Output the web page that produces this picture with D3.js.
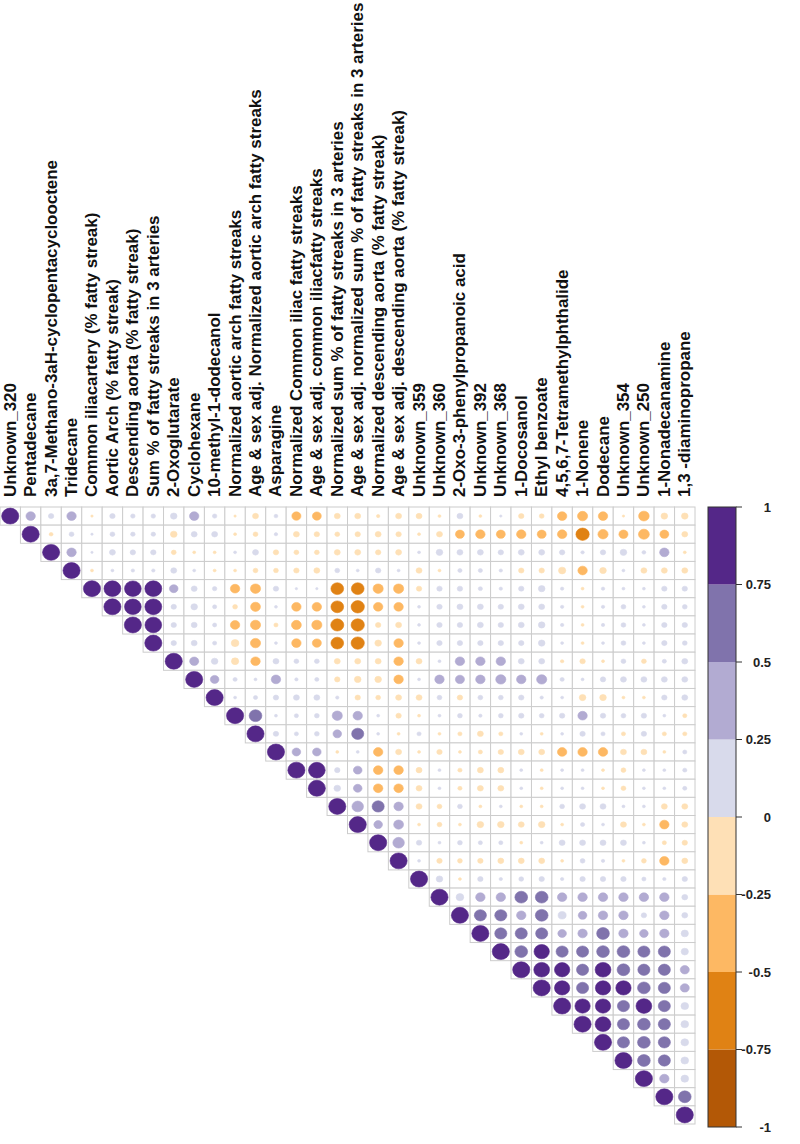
<!DOCTYPE html>
<html>
<head>
<meta charset="utf-8">
<script src="https://cdn.jsdelivr.net/npm/d3@7"></script>
<style>
  html, body { margin: 0; padding: 0; background: #ffffff; }
  svg { display: block; }
</style>
</head>
<body>
<svg id="chart" width="800" height="1144"></svg>
<script>
// ---------------- DATA ----------------
const labels = [
  "Unknown_320",
  "Pentadecane",
  "3a,7-Methano-3aH-cyclopentacyclooctene",
  "Tridecane",
  "Common iliacartery (% fatty streak)",
  "Aortic Arch (% fatty streak)",
  "Descending aorta (% fatty streak)",
  "Sum % of fatty streaks in  3  arteries",
  "2-Oxoglutarate",
  "Cyclohexane",
  "10-methyl-1-dodecanol",
  "Normalized aortic arch fatty streaks",
  "Age & sex adj. Normalized aortic arch fatty streaks",
  "Asparagine",
  "Normalized Common iliac fatty streaks",
  "Age & sex adj. common iliacfatty streaks",
  "Normalized sum % of fatty streaks in 3 arteries",
  "Age & sex adj. normalized sum % of fatty streaks in 3 arteries",
  "Normalized descending aorta (% fatty streak)",
  "Age & sex adj. descending aorta (% fatty streak)",
  "Unknown_359",
  "Unknown_360",
  "2-Oxo-3-phenylpropanoic acid",
  "Unknown_392",
  "Unknown_368",
  "1-Docosanol",
  "Ethyl benzoate",
  "4,5,6,7-Tetramethylphthalide",
  "1-Nonene",
  "Dodecane",
  "Unknown_354",
  "Unknown_250",
  "1-Nonadecanamine",
  "1,3 -diaminopropane"
];

// Upper-triangle correlations: row i holds values for columns i..33
const r0  = [1, 0.3, 0.1, 0.3, -0.02, 0.1, 0.07, 0.07, 0.15, 0.3, 0.07, -0.02, -0.12, 0.05, -0.28, -0.27, -0.12, -0.12, -0.04, -0.12, -0.12, -0.03, 0.12, -0.03, 0.02, -0.1, -0.08, -0.3, -0.35, -0.3, -0.02, -0.38, -0.15, -0.15];
const r1  = [1, -0.05, 0.08, 0.02, 0.08, 0.07, 0.07, -0.15, 0.12, 0.12, -0.03, -0.08, 0.04, -0.12, -0.1, -0.08, -0.1, -0.12, -0.1, -0.03, -0.12, -0.27, -0.3, -0.27, -0.3, -0.27, -0.3, -0.6, -0.35, -0.28, -0.4, -0.27, -0.12];
const r2  = [1, 0.3, 0.02, 0.12, 0.1, 0.1, -0.08, -0.03, -0.03, 0.03, 0.12, -0.1, -0.08, -0.08, -0.12, -0.12, -0.1, -0.12, 0.03, 0.15, 0.12, 0.12, 0.1, 0.12, 0.12, 0.1, 0.04, 0.1, 0.15, 0.05, 0.3, -0.03];
const r3  = [1, -0.03, 0.03, 0.04, 0.04, 0.12, 0.03, -0.03, -0.03, -0.08, -0.08, -0.1, -0.12, 0.08, 0.03, 0.1, 0.03, -0.12, -0.03, 0.06, 0.06, 0.04, -0.1, -0.1, -0.18, -0.3, -0.15, 0.03, -0.12, -0.12, -0.12];
const r4  = [1, 0.97, 0.95, 0.97, 0.25, 0.12, 0.07, -0.3, -0.35, 0.1, 0.02, 0.02, -0.55, -0.55, -0.35, -0.35, -0.1, 0.1, 0.1, 0.06, 0.04, 0.1, 0.15, 0.04, -0.03, 0.04, 0.03, 0.03, 0.1, 0.1];
const r5  = [1, 0.95, 0.97, 0.1, 0.15, 0.06, -0.08, -0.33, 0.03, -0.3, -0.3, -0.55, -0.6, -0.3, -0.3, 0.03, 0.1, 0.12, 0.12, 0.1, 0.12, 0.12, 0.04, -0.03, 0.04, 0.08, 0.03, 0.1, 0.08];
const r6  = [1, 0.95, 0.1, 0.12, 0.06, -0.3, -0.35, -0.06, -0.33, -0.35, -0.58, -0.6, -0.1, -0.12, 0.03, 0.1, 0.1, 0.12, 0.1, 0.12, 0.15, 0.04, -0.03, 0.04, 0.08, 0.03, 0.1, 0.1];
const r7  = [1, 0.1, 0.12, 0.06, -0.2, -0.35, 0.03, -0.3, -0.28, -0.55, -0.6, -0.15, -0.3, 0.03, 0.1, 0.1, 0.1, 0.1, 0.1, 0.15, 0.03, -0.03, 0.03, 0.08, 0.03, 0.1, 0.08];
const r8  = [1, 0.28, 0.15, -0.18, -0.3, 0.12, 0.08, 0.08, -0.12, -0.12, -0.12, -0.3, -0.12, 0.03, 0.3, 0.3, 0.3, 0.12, 0.12, -0.04, -0.1, -0.03, 0.08, -0.08, 0.06, 0.12];
const r9  = [1, 0.25, 0.06, 0.03, 0.3, 0.04, 0.06, -0.1, -0.15, -0.15, -0.3, 0.03, 0.3, 0.28, 0.3, 0.35, 0.3, 0.35, 0.06, 0.03, 0.1, 0.12, 0.12, 0.12, 0.12];
const r10 = [1, 0.03, 0.06, 0.1, 0.12, 0.12, 0.04, -0.1, -0.08, -0.12, -0.12, 0.08, -0.1, 0.08, 0.08, 0.1, 0.04, 0.03, -0.15, -0.15, -0.03, -0.03, 0.1, 0.12];
const r11 = [1, 0.55, 0.03, 0.06, 0.08, 0.35, 0.3, 0.03, -0.1, -0.03, 0.03, 0.08, 0.04, 0.08, 0.1, 0.08, 0.1, 0.3, 0.1, 0.08, 0.1, 0.03, -0.06];
const r12 = [1, 0.1, 0.06, 0.08, 0.25, 0.5, 0.03, -0.03, 0.06, -0.03, -0.06, -0.12, -0.06, 0.03, -0.03, 0.03, 0.1, 0.06, -0.06, 0.1, -0.06, -0.06];
const r13 = [1, 0.25, 0.25, -0.03, 0.03, -0.3, -0.12, -0.03, -0.1, -0.03, -0.06, -0.1, -0.12, -0.12, -0.3, -0.3, -0.3, -0.12, -0.12, -0.03, 0.06];
const r14 = [1, 0.95, 0.1, 0.25, -0.3, -0.3, -0.12, 0.03, -0.06, -0.12, -0.12, 0.03, -0.03, 0.03, 0.03, -0.03, -0.08, 0.03, 0.03, 0.06];
const r15 = [1, 0.15, 0.25, -0.3, -0.3, -0.12, 0.03, -0.06, -0.12, -0.12, 0.03, -0.03, 0.03, 0.03, -0.03, -0.08, 0.03, 0.03, 0.06];
const r16 = [1, 0.45, 0.5, 0.3, -0.12, -0.08, 0.08, -0.03, 0.03, -0.03, -0.03, 0.08, 0.12, 0.12, 0.03, 0.03, -0.12, -0.12];
const r17 = [1, 0.25, 0.33, -0.03, -0.08, -0.03, -0.15, -0.15, -0.12, -0.15, -0.03, 0.06, 0.03, -0.12, -0.03, -0.3, -0.12];
const r18 = [1, 0.45, 0.1, 0.03, 0.08, 0.06, 0.06, -0.03, 0.03, 0.12, 0.12, 0.12, 0.12, 0.03, -0.06, -0.1];
const r19 = [1, 0.03, -0.1, -0.08, -0.1, -0.12, -0.12, -0.12, -0.03, 0.08, 0.04, -0.03, -0.08, -0.3, -0.12];
const r20 = [1, 0.15, -0.03, 0.1, 0.04, 0.08, 0.1, 0.04, 0.1, 0.1, 0.1, 0.06, 0.04, 0.1];
const r21 = [1, 0.2, 0.3, 0.3, 0.55, 0.55, 0.3, 0.3, 0.3, 0.3, 0.3, 0.3, 0.12];
const r22 = [1, 0.5, 0.5, 0.3, 0.55, 0.22, 0.25, 0.3, 0.3, 0.1, 0.3, 0.12];
const r23 = [1, 0.5, 0.5, 0.5, 0.25, 0.3, 0.55, 0.3, 0.25, 0.3, 0.18];
const r24 = [1, 0.55, 0.8, 0.5, 0.5, 0.55, 0.55, 0.5, 0.5, 0.18];
const r25 = [1, 0.85, 0.8, 0.5, 0.85, 0.55, 0.5, 0.5, 0.28];
const r26 = [1, 0.8, 0.5, 0.8, 0.8, 0.55, 0.5, 0.28];
const r27 = [1, 0.8, 0.8, 0.5, 0.85, 0.5, 0.2];
const r28 = [1, 0.85, 0.5, 0.55, 0.5, 0.2];
const r29 = [1, 0.5, 0.55, 0.5, 0.2];
const r30 = [1, 0.55, 0.5, 0.2];
const r31 = [1, 0.3, 0.2];
const r32 = [1, 0.55];
const r33 = [1];
const corrRows = [r0, r1, r2, r3, r4, r5, r6, r7, r8, r9, r10, r11, r12, r13, r14, r15, r16,
                  r17, r18, r19, r20, r21, r22, r23, r24, r25, r26, r27, r28, r29, r30, r31, r32, r33];

const legendTicks = [1, 0.75, 0.5, 0.25, 0, -0.25, -0.5, -0.75, -1];
const binEdges = [-1, -0.75, -0.5, -0.25, 0, 0.25, 0.5, 0.75, 1];
const palette = ["#B35806", "#E08214", "#FDB863", "#FEE0B6", "#D8DAEB", "#B2ABD2", "#8073AC", "#542788"];

// ---------------- DRAW ----------------
const svg = d3.select("#chart");
const n = labels.length;
const idx = d3.range(n);

const x = d3.scaleBand().domain(idx).range([0, 695]);
const y = d3.scaleBand().domain(idx).range([507, 1124]);
const color = d3.scaleThreshold().domain(binEdges.slice(1, -1)).range(palette);

const cells = [];
corrRows.forEach((row, i) => row.forEach((v, k) => cells.push({ i, j: i + k, v })));

const bw = x.bandwidth(), bh = y.bandwidth();

// grid
svg.append("g").selectAll("rect").data(cells).join("rect")
  .attr("x", d => x(d.j)).attr("y", d => y(d.i))
  .attr("width", bw).attr("height", bh)
  .attr("fill", "#ffffff").attr("stroke", "#cccccc").attr("stroke-width", 1);

// circles
svg.append("g").selectAll("ellipse").data(cells).join("ellipse")
  .attr("cx", d => x(d.j) + bw / 2)
  .attr("cy", d => y(d.i) + bh / 2)
  .attr("rx", d => 0.42 * bw * Math.sqrt(Math.abs(d.v)))
  .attr("ry", d => 0.44 * bh * Math.sqrt(Math.abs(d.v)))
  .attr("fill", d => color(d.v))
  .attr("stroke", d => color(d.v)).attr("stroke-width", 0.6);

// column labels (rotated, slightly elongated along the text like the reference)
svg.append("g").selectAll("text").data(labels).join("text")
  .attr("transform", (d, k) => `translate(${x(k) + bw / 2 + 5.5},497) rotate(-90) scale(1.06,1)`)
  .attr("text-anchor", "start")
  .attr("font-family", "'Liberation Sans', Arial, sans-serif")
  .attr("font-weight", "bold")
  .attr("font-size", 16)
  .attr("fill", "#111")
  .text(d => d);

// legend
const ly = d3.scaleLinear().domain([-1, 1]).range([1127, 507]);
const lx = 708, lw = 28;
const lg = svg.append("g");
lg.selectAll("rect.bin").data(palette).join("rect")
  .attr("class", "bin")
  .attr("x", lx)
  .attr("y", (c, k) => ly(binEdges[k + 1]))
  .attr("width", lw)
  .attr("height", (c, k) => ly(binEdges[k]) - ly(binEdges[k + 1]))
  .attr("fill", c => c);
lg.append("rect").attr("x", lx).attr("y", ly(1)).attr("width", lw).attr("height", ly(-1) - ly(1))
  .attr("fill", "none").attr("stroke", "#333").attr("stroke-width", 1);
lg.selectAll("line").data(legendTicks).join("line")
  .attr("x1", lx + lw).attr("x2", lx + lw + 6)
  .attr("y1", d => ly(d)).attr("y2", d => ly(d))
  .attr("stroke", "#333").attr("stroke-width", 1);
lg.selectAll("text").data(legendTicks).join("text")
  .attr("x", 771).attr("y", d => ly(d)).attr("dy", "0.35em")
  .attr("text-anchor", "end")
  .attr("font-family", "'Liberation Sans', Arial, sans-serif")
  .attr("font-weight", "bold")
  .attr("font-size", 13)
  .attr("fill", "#222")
  .text(d => String(d));
</script>
</body>
</html>
